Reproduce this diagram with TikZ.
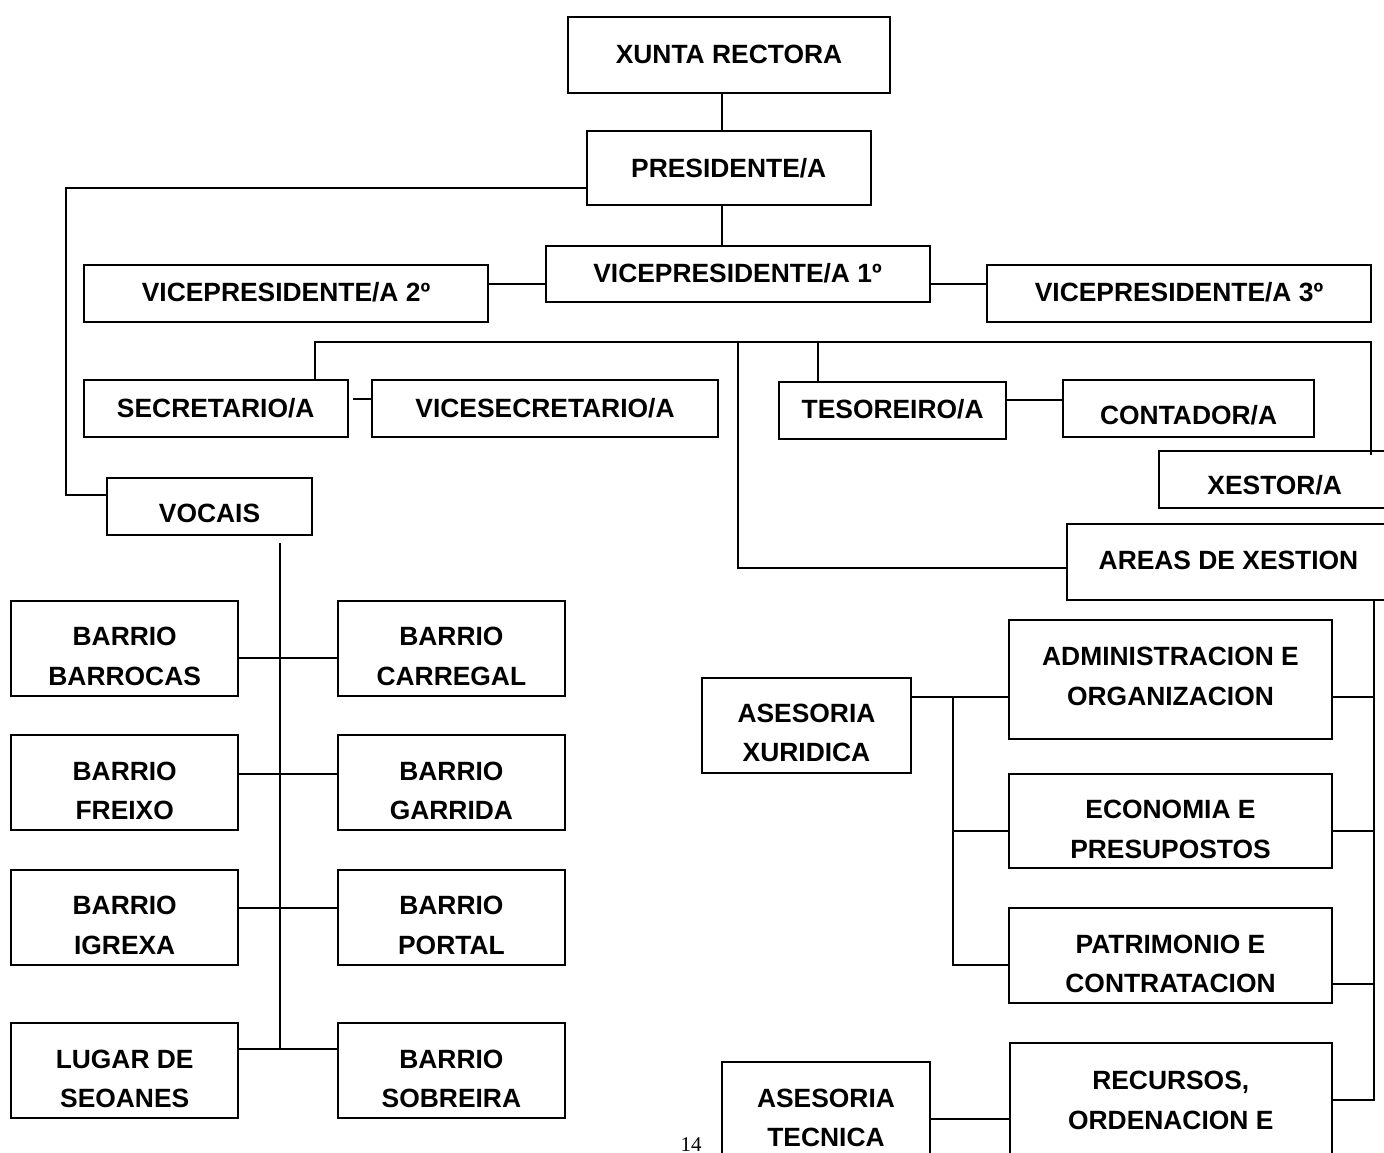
\documentclass[tikz,border=0pt]{standalone}
\usepackage{fontspec}
\setmainfont{Liberation Sans}
\newfontfamily\pgnumfont{Liberation Serif}
\newcommand\bxt[3]{\rule{0pt}{#1pt}#3\rule[-#2pt]{0pt}{#2pt}}
\begin{document}
\begin{tikzpicture}[x=1pt,y=-1pt,
  bx/.style={draw=black, line width=2pt, rectangle, inner sep=0pt, align=center,
    font=\bfseries\fontsize{26.4}{39.5}\selectfont},
  ln/.style={line width=2pt}]
\useasboundingbox (0,0) rectangle (1384,1153);
\clip (0,0) rectangle (1384,1153);
\fill[white] (0,0) rectangle (1384,1153);

% --- boxes ---
\node[bx, minimum width=322, minimum height=76] (xunta) at (729,55) {\bxt{19}{2}{XUNTA RECTORA}};
\node[bx, minimum width=284.5, minimum height=74] (pres) at (728.75,168) {\bxt{19}{0}{PRESIDENTE/A}};
\node[bx, minimum width=384, minimum height=56] (vp1) at (737.5,274) {\bxt{19}{3}{VICEPRESIDENTE/A 1º}};
\node[bx, minimum width=404, minimum height=57.5] (vp2) at (286,293.25) {\bxt{19}{2}{VICEPRESIDENTE/A 2º}};
\node[bx, minimum width=384, minimum height=57.5] (vp3) at (1179,293.25) {\bxt{19}{2}{VICEPRESIDENTE/A 3º}};
\node[bx, minimum width=263.5, minimum height=57.5] (sec) at (215.75,408.25) {\bxt{19}{0}{SECRETARIO/A}};
\node[bx, minimum width=346, minimum height=57] (vsec) at (545,408.5) {\bxt{19}{0}{VICESECRETARIO/A}};
\node[bx, minimum width=227.3, minimum height=57] (tes) at (892.6,410.2) {\bxt{19}{3.4}{TESOREIRO/A}};
\node[bx, minimum width=250.5, minimum height=57] (cont) at (1188.6,408.5) {\bxt{31.6}{0}{CONTADOR/A}};
\node[bx, minimum width=230.6, minimum height=57.3] (xestor) at (1274.7,479.65) {\bxt{31.2}{0}{XESTOR/A}};
\node[bx, minimum width=205, minimum height=57] (vocais) at (209.5,506.5) {\bxt{32}{0}{VOCAIS}};
\node[bx, minimum width=323, minimum height=76] (areas) at (1228.5,562) {\bxt{19}{4.6}{AREAS DE XESTION}};

\node[bx, minimum width=227.3, minimum height=95.5] (b1) at (124.7,648.25) {\bxt{35}{0}{BARRIO\\BARROCAS}};
\node[bx, minimum width=227.3, minimum height=95.5] (b2) at (451.4,648.25) {\bxt{35}{0}{BARRIO\\CARREGAL}};
\node[bx, minimum width=227.3, minimum height=94.8] (b3) at (124.7,782.8) {\bxt{35}{0}{BARRIO\\FREIXO}};
\node[bx, minimum width=227.3, minimum height=94.8] (b4) at (451.4,782.8) {\bxt{35}{0}{BARRIO\\GARRIDA}};
\node[bx, minimum width=227.3, minimum height=94.8] (b5) at (124.7,917.2) {\bxt{35}{0}{BARRIO\\IGREXA}};
\node[bx, minimum width=227.3, minimum height=94.8] (b6) at (451.4,917.2) {\bxt{35}{0}{BARRIO\\PORTAL}};
\node[bx, minimum width=227.3, minimum height=94.7] (b7) at (124.7,1070.65) {\bxt{35}{0}{LUGAR DE\\SEOANES}};
\node[bx, minimum width=227.3, minimum height=94.7] (b8) at (451.4,1070.65) {\bxt{35}{0}{BARRIO\\SOBREIRA}};

\node[bx, minimum width=208.4, minimum height=95] (asx) at (806.5,725.5) {\bxt{33}{0}{ASESORIA\\XURIDICA}};
\node[bx, minimum width=322.4, minimum height=119.3] (admin) at (1170.5,679.65) {\bxt{19}{7}{ADMINISTRACION E\\ORGANIZACION}};
\node[bx, minimum width=322.4, minimum height=94.6] (eco) at (1170.5,821) {\bxt{35}{0}{ECONOMIA E\\PRESUPOSTOS}};
\node[bx, minimum width=322.4, minimum height=94.7] (pat) at (1170.5,955.35) {\bxt{35.4}{0}{PATRIMONIO E\\CONTRATACION}};
\node[bx, minimum width=321.5, minimum height=139.3] (rec) at (1170.75,1112.35) {\bxt{19}{25.2}{RECURSOS,\\ORDENACION E}};
\node[bx, minimum width=208, minimum height=95.3] (ast) at (826,1109.35) {\bxt{35.3}{0}{ASESORIA\\TECNICA}};

\node[font=\pgnumfont\fontsize{21}{25}\selectfont, inner sep=0pt, anchor=base] (pg) at (691,1151) {14};

% --- helper coordinates ---
\coordinate (sx) at (722,0);
\coordinate (yp) at (0,188);
\coordinate (lx) at (66,0);
\coordinate (yv) at (0,495);
\coordinate (yvp) at (0,284);
\coordinate (ybus) at (0,341.5);
\coordinate (xsec) at (315,0);
\coordinate (xbig) at (738,0);
\coordinate (xtes) at (818,0);
\coordinate (xbr) at (1371,0);
\coordinate (xe) at (1371,455);
\coordinate (yar) at (0,568);
\coordinate (secd) at (353,399);
\coordinate (ytes) at (0,399.5);
\coordinate (vtop) at (280,543);
\coordinate (vx) at (280,0);
\coordinate (yr1) at (0,658.2);
\coordinate (yr2) at (0,773.6);
\coordinate (yr3) at (0,907.5);
\coordinate (yr4) at (0,1049.3);
\coordinate (rx) at (1374,0);
\coordinate (yq1) at (0,697);
\coordinate (yq2) at (0,831);
\coordinate (yq3) at (0,984);
\coordinate (yq4) at (0,1100);
\coordinate (ax) at (953,0);
\coordinate (ya3) at (0,964.5);
\coordinate (yt) at (0,1119.3);

% --- connectors ---
\draw[ln] (xunta.south -| sx) -- (pres.north -| sx);
\draw[ln] (pres.south -| sx) -- (vp1.north -| sx);
\draw[ln] (pres.west |- yp) -| (lx |- yv) -- (vocais.west |- yv);
\draw[ln] (vp2.east |- yvp) -- (vp1.west |- yvp);
\draw[ln] (vp1.east |- yvp) -- (vp3.west |- yvp);
\draw[ln] (sec.north -| xsec) |- (xbr |- ybus) -- (xe);
\draw[ln] (xbig |- ybus) |- (areas.west |- yar);
\draw[ln] (xtes |- ybus) -- (tes.north -| xtes);
\draw[ln] (secd) -- (vsec.west |- secd);
\draw[ln] (tes.east |- ytes) -- (cont.west |- ytes);

\draw[ln] (vtop) -- (vx |- yr4);
\draw[ln] (b1.east |- yr1) -- (b2.west |- yr1);
\draw[ln] (b3.east |- yr2) -- (b4.west |- yr2);
\draw[ln] (b5.east |- yr3) -- (b6.west |- yr3);
\draw[ln] (b7.east |- yr4) -- (b8.west |- yr4);

\draw[ln] (areas.south -| rx) -- (rx |- yq4) -- (rec.east |- yq4);
\draw[ln] (admin.east |- yq1) -- (rx |- yq1);
\draw[ln] (eco.east |- yq2) -- (rx |- yq2);
\draw[ln] (pat.east |- yq3) -- (rx |- yq3);

\draw[ln] (asx.east |- yq1) -- (admin.west |- yq1);
\draw[ln] (ax |- yq1) |- (pat.west |- ya3);
\draw[ln] (ax |- yq2) -- (eco.west |- yq2);
\draw[ln] (ast.east |- yt) -- (rec.west |- yt);
\end{tikzpicture}
\end{document}
